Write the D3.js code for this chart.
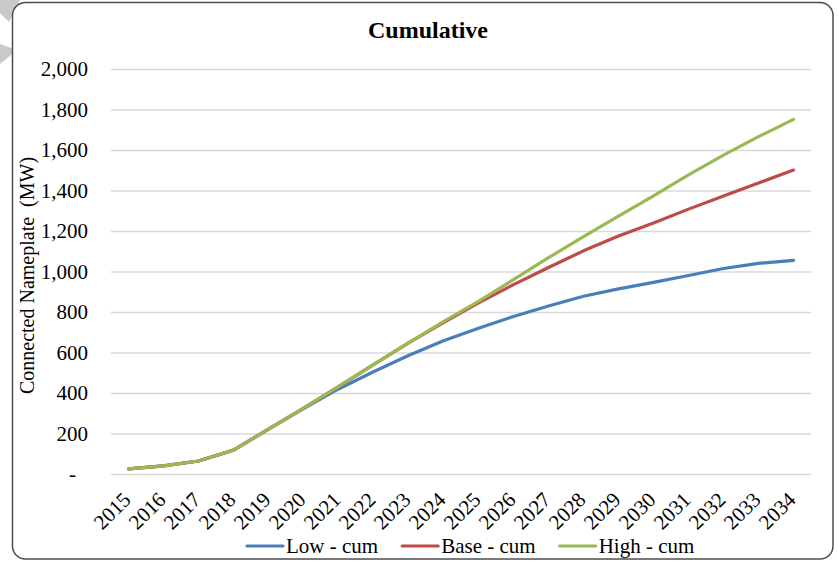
<!DOCTYPE html>
<html>
<head>
<meta charset="utf-8">
<script src="https://cdn.jsdelivr.net/npm/d3@7/dist/d3.min.js"></script>
<style>
  html, body { margin: 0; padding: 0; background: #fff; }
  svg { display: block; }
  text { font-family: "Liberation Serif", "Times New Roman", Times, serif; fill: #000; }
</style>
</head>
<body>
<svg id="chart" width="838" height="561"></svg>
<script>
// Cumulative connected nameplate capacity (MW) by scenario
const years = [2015, 2016, 2017, 2018, 2019, 2020, 2021, 2022, 2023, 2024,
               2025, 2026, 2027, 2028, 2029, 2030, 2031, 2032, 2033, 2034];
const lowCum  = [25, 40, 64, 118, 222, 323, 420, 505, 585, 658,
                 720, 778, 830, 878, 914, 946, 980, 1015, 1040, 1055];
const baseCum = [25, 40, 64, 118, 222, 325, 432, 540, 648, 748,
                 845, 935, 1020, 1102, 1175, 1240, 1308, 1373, 1437, 1501];
const highCum = [25, 40, 64, 118, 222, 325, 432, 540, 648, 752,
                 853, 960, 1068, 1172, 1274, 1373, 1477, 1575, 1666, 1751];
const yTicks = [0, 200, 400, 600, 800, 1000, 1200, 1400, 1600, 1800, 2000];
const seriesNames = ["Low - cum", "Base - cum", "High - cum"];
const seriesColors = ["#4A7EBB", "#BE4B48", "#98B954"];

const series = [lowCum, baseCum, highCum].map((vals, i) => ({
  name: seriesNames[i],
  color: seriesColors[i],
  values: vals.map((v, j) => ({ year: years[j], value: v }))
}));

const svg = d3.select("#chart");
const W = 838, H = 561;
const plot = { left: 111, right: 811, top: 69, bottom: 474 };

// grey decoration peeking out behind the frame
svg.append("polygon")
  .attr("points", "0,0 20,0 9,22 0,13")
  .attr("fill", "#c9c9c9");
svg.append("polygon")
  .attr("points", "0,44 17,50 0,64")
  .attr("fill", "#c9c9c9");

// chart frame
svg.append("rect")
  .attr("x", 12.5).attr("y", 2.5)
  .attr("width", 820.5).attr("height", 556.5)
  .attr("rx", 13).attr("ry", 13)
  .attr("fill", "#fff")
  .attr("stroke", "#4d4d4d")
  .attr("stroke-width", 1.5);

const x = d3.scalePoint()
  .domain(years)
  .range([plot.left, plot.right])
  .padding(0.5);

const y = d3.scaleLinear()
  .domain([0, 2000])
  .range([plot.bottom, plot.top]);

// horizontal gridlines
svg.append("g")
  .attr("transform", `translate(${plot.left},0)`)
  .call(d3.axisLeft(y).tickValues(yTicks).tickSize(-(plot.right - plot.left)).tickFormat(""))
  .call(g => g.select(".domain").remove())
  .call(g => g.selectAll(".tick line")
    .attr("stroke", "#d9d9d9")
    .attr("stroke-width", 1.4));

// y axis labels
const fmt = d3.format(",");
svg.append("g")
  .attr("transform", `translate(${plot.left},0)`)
  .call(d3.axisLeft(y).tickValues(yTicks).tickSize(0).tickPadding(23)
    .tickFormat(d => d === 0 ? "-" : fmt(d)))
  .call(g => g.select(".domain").remove())
  .call(g => g.selectAll(".tick text")
    .attr("font-family", null)
    .style("font-size", "21px")
    .attr("x", d => d === 0 ? -35 : -23));

// x axis labels, rotated
svg.append("g")
  .attr("transform", `translate(0,${plot.bottom})`)
  .call(d3.axisBottom(x).tickSize(0))
  .call(g => g.select(".domain").remove())
  .call(g => g.selectAll(".tick text")
    .attr("font-family", null)
    .style("font-size", "21px")
    .attr("y", 0).attr("dy", 0)
    .attr("text-anchor", "end")
    .attr("transform", "translate(3,27) rotate(-45)"));

// y axis title
svg.append("text")
  .attr("transform", `translate(34,${(plot.top + plot.bottom) / 2 + 4}) rotate(-90)`)
  .attr("text-anchor", "middle")
  .style("font-size", "20px")
  .style("white-space", "pre")
  .text("Connected Nameplate  (MW)");

// chart title
svg.append("text")
  .attr("x", 428).attr("y", 38)
  .attr("text-anchor", "middle")
  .style("font-size", "24px")
  .style("font-weight", "bold")
  .text("Cumulative");

// series lines
const line = d3.line()
  .x(d => x(d.year))
  .y(d => y(d.value));

svg.append("g")
  .selectAll("path")
  .data(series)
  .join("path")
  .attr("d", d => line(d.values))
  .attr("fill", "none")
  .attr("stroke", d => d.color)
  .attr("stroke-width", 3.2)
  .attr("stroke-linejoin", "round")
  .attr("stroke-linecap", "round");

// legend
const legend = svg.append("g");
let lx = 247;
const ly = 546;
series.forEach(s => {
  legend.append("line")
    .attr("x1", lx).attr("x2", lx + 36)
    .attr("y1", ly).attr("y2", ly)
    .attr("stroke", s.color)
    .attr("stroke-width", 3.2)
    .attr("stroke-linecap", "round");
  const t = legend.append("text")
    .attr("x", lx + 39).attr("y", ly + 7)
    .style("font-size", "21px")
    .text(s.name);
  lx += 39 + t.node().getComputedTextLength() + 24;
});
</script>
</body>
</html>
